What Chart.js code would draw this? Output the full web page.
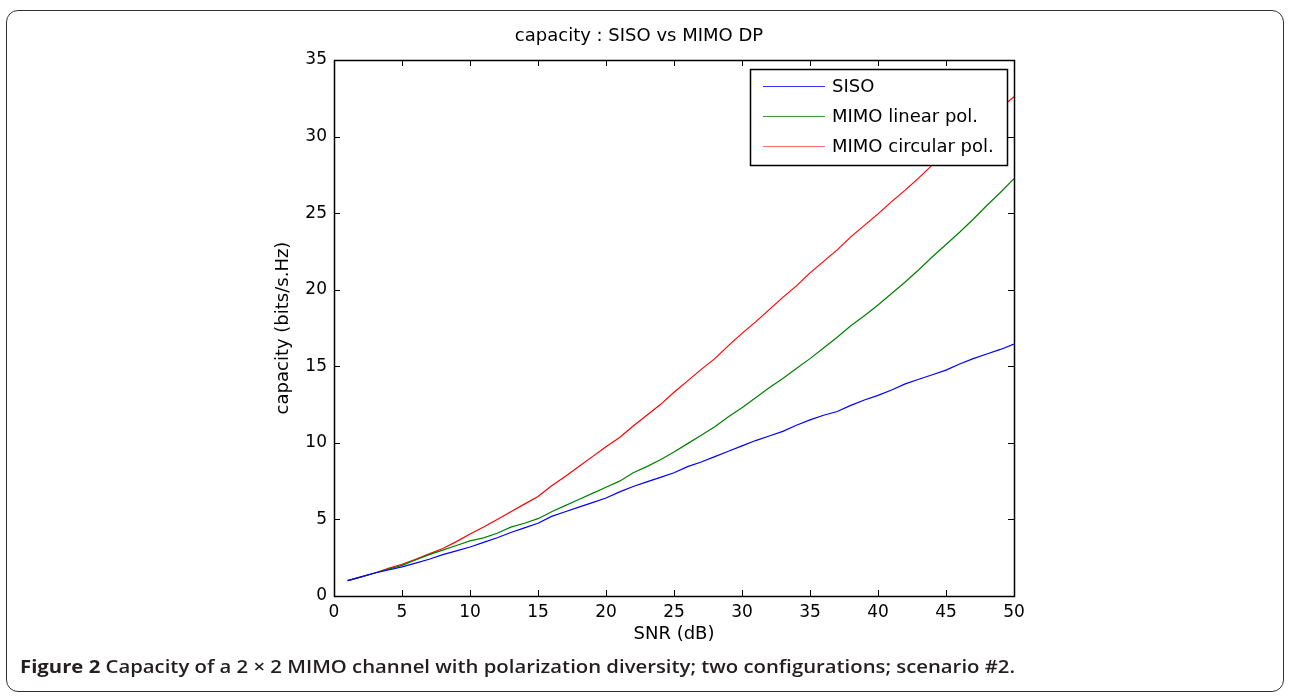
<!DOCTYPE html>
<html lang="en">
<head>
    <meta charset="UTF-8">
    <title>capacity : SISO vs MIMO DP</title>
    <script src="https://cdn.jsdelivr.net/npm/chart.js@4.4.1/dist/chart.umd.min.js"></script>
    <style>
      html, body {
        margin: 0;
        padding: 0;
        background: #fff;
      }
      .frame {
        position: absolute;
        left: 6px;
        top: 10px;
        width: 1276px;
        height: 680px;
        border: 1.5px solid #333;
        border-radius: 12px;
      }
      .chart-box {
        position: absolute;
        left: 0;
        top: 0;
        width: 1290px;
        height: 696px;
      }
      .caption {
        position: absolute;
        left: 20px;
        top: 654px;
        font-family: "Open Sans", sans-serif;
        font-size: 18px;
        font-weight: 600;
        color: #231f20;
        white-space: nowrap;
        transform-origin: 0 50%;
      }
      .caption b {
        font-weight: 700;
      }
    </style>
</head>
<body>
    <div class="frame"></div>
    <div class="chart-box">
        <canvas id="myChart" width="1290" height="696"></canvas>
    </div>
    <div class="caption" id="caption"><b>Figure 2</b> Capacity of a 2 &times; 2 MIMO channel with polarization diversity; two configurations; scenario #2.</div>

    <script>
        // SNR in dB
        const snr = [1, 2, 3, 4, 5, 6, 7, 8, 9, 10, 11, 12, 13, 14, 15, 16, 17, 18, 19, 20,
                     21, 22, 23, 24, 25, 26, 27, 28, 29, 30, 31, 32, 33, 34, 35, 36, 37, 38, 39, 40,
                     41, 42, 43, 44, 45, 46, 47, 48, 49, 50];

        // capacity, bits/s.Hz
        const siso = [1.0, 1.25, 1.5, 1.7, 1.9, 2.15, 2.4, 2.7, 2.95, 3.2, 3.5, 3.8, 4.15, 4.45, 4.75, 5.2, 5.5, 5.8, 6.1, 6.4,
                      6.8, 7.15, 7.45, 7.75, 8.05, 8.45, 8.75, 9.1, 9.45, 9.8, 10.15, 10.45, 10.75, 11.15, 11.5, 11.8, 12.05, 12.45, 12.8, 13.1,
                      13.45, 13.85, 14.15, 14.45, 14.75, 15.15, 15.5, 15.8, 16.1, 16.45];
        const mimoLinear = [1.0, 1.25, 1.5, 1.75, 2.0, 2.35, 2.7, 3.0, 3.3, 3.6, 3.8, 4.1, 4.5, 4.75, 5.05, 5.5, 5.9, 6.3, 6.7, 7.1,
                            7.5, 8.05, 8.45, 8.9, 9.4, 9.95, 10.5, 11.05, 11.7, 12.3, 12.95, 13.6, 14.2, 14.85, 15.5, 16.2, 16.9, 17.65, 18.3, 19.0,
                            19.75, 20.5, 21.3, 22.15, 22.95, 23.75, 24.6, 25.5, 26.35, 27.25];
        const mimoCircular = [1.0, 1.25, 1.5, 1.8, 2.07, 2.4, 2.75, 3.1, 3.55, 4.05, 4.5, 5.0, 5.5, 6.0, 6.5, 7.2, 7.8, 8.45, 9.1, 9.75,
                              10.35, 11.1, 11.8, 12.5, 13.3, 14.05, 14.8, 15.5, 16.35, 17.15, 17.9, 18.7, 19.5, 20.25, 21.1, 21.85, 22.6, 23.45, 24.2, 24.95,
                              25.75, 26.5, 27.3, 28.15, 28.85, 29.65, 30.45, 31.15, 31.85, 32.6];

        const seriesNames = ['SISO', 'MIMO linear pol.', 'MIMO circular pol.'];
        const seriesColors = ['#0000ff', '#008000', '#ff0000'];
        const legendLineColors = ['#3333ff', '#3a9a3a', '#ff7070'];

        const FONT = '"DejaVu Sans", sans-serif';

        function toPoints(ys) {
          return snr.map((x, i) => ({ x: x, y: ys[i] }));
        }

        // inward ticks on all 4 sides + box + matlab style legend
        const matlabAxes = {
          id: 'matlabAxes',
          afterDatasetsDraw(chart) {
            const { ctx, chartArea: a, scales: { x, y } } = chart;
            ctx.save();
            ctx.strokeStyle = '#000';
            ctx.lineWidth = 1;
            ctx.beginPath();
            for (let v = 0; v <= 50; v += 5) {
              const px = Math.round(x.getPixelForValue(v)) + 0.5;
              ctx.moveTo(px, a.bottom); ctx.lineTo(px, a.bottom - 6);
              ctx.moveTo(px, a.top); ctx.lineTo(px, a.top + 6);
            }
            for (let v = 0; v <= 35; v += 5) {
              const py = Math.round(y.getPixelForValue(v)) + 0.5;
              ctx.moveTo(a.left, py); ctx.lineTo(a.left + 6, py);
              ctx.moveTo(a.right, py); ctx.lineTo(a.right - 6, py);
            }
            ctx.stroke();
            ctx.lineWidth = 1.5;
            ctx.strokeRect(Math.round(a.left) + 0.5, Math.round(a.top) + 0.5,
                           Math.round(a.right - a.left), Math.round(a.bottom - a.top));

            // legend
            const lx = 750, ly = 69, lw = 257, lh = 96;
            ctx.fillStyle = '#fff';
            ctx.fillRect(lx, ly, lw, lh);
            ctx.lineWidth = 1.5;
            ctx.strokeRect(lx + 0.5, ly + 0.5, lw, lh);
            ctx.font = '18px ' + FONT;
            ctx.textBaseline = 'middle';
            ctx.textAlign = 'left';
            seriesNames.forEach((name, i) => {
              const cy = ly + 17 + i * 30;
              ctx.strokeStyle = legendLineColors[i];
              ctx.lineWidth = 1.2;
              ctx.beginPath();
              ctx.moveTo(763, cy + 0.5);
              ctx.lineTo(825, cy + 0.5);
              ctx.stroke();
              ctx.fillStyle = '#000';
              ctx.fillText(name, 832, cy + 1);
            });
            ctx.restore();
          }
        };

        const data = {
          datasets: [
            { label: seriesNames[0], data: toPoints(siso), borderColor: seriesColors[0] },
            { label: seriesNames[1], data: toPoints(mimoLinear), borderColor: seriesColors[1] },
            { label: seriesNames[2], data: toPoints(mimoCircular), borderColor: seriesColors[2] }
          ]
        };

        const config = {
          type: 'line',
          data: data,
          options: {
            responsive: false,
            animation: false,
            layout: {
              padding: { left: 264, right: 276, top: 0, bottom: 50 }
            },
            elements: {
              point: { radius: 0 },
              line: { borderWidth: 1.2, tension: 0 }
            },
            plugins: {
              legend: { display: false },
              tooltip: { enabled: false },
              title: {
                display: true,
                text: 'capacity : SISO vs MIMO DP',
                color: '#000',
                font: { family: FONT, size: 18, weight: 'normal', lineHeight: 1.2 },
                padding: { top: 26, bottom: 12.4 }
              }
            },
            scales: {
              x: {
                type: 'linear',
                min: 0,
                max: 50,
                grid: { display: false, drawTicks: false },
                border: { display: false },
                ticks: { stepSize: 5, padding: 6, color: '#000', maxRotation: 0,
                         font: { family: FONT, size: 17 } },
                title: { display: true, text: 'SNR (dB)', color: '#000',
                         font: { family: FONT, size: 18, lineHeight: 1.2 },
                         padding: { top: 0, bottom: 1 } },
                afterFit(scale) { scale.height = 50; }
              },
              y: {
                type: 'linear',
                min: 0,
                max: 35,
                grid: { display: false, drawTicks: false },
                border: { display: false },
                ticks: { stepSize: 5, padding: 7, color: '#000',
                         font: { family: FONT, size: 17 } },
                title: { display: true, text: 'capacity (bits/s.Hz)', color: '#000',
                         font: { family: FONT, size: 18, lineHeight: 1.2 },
                         padding: { top: 9, bottom: 0 } },
                afterFit(scale) { scale.width = 70; }
              }
            }
          },
          plugins: [matlabAxes]
        };

        const ctx = document.getElementById('myChart').getContext('2d');
        const myChart = new Chart(ctx, config);

        // stretch caption to the width it has in the figure
        const cap = document.getElementById('caption');
        const capW = cap.getBoundingClientRect().width;
        cap.style.transform = 'scaleX(' + (995 / capW).toFixed(3) + ')';
    </script>
</body>
</html>
